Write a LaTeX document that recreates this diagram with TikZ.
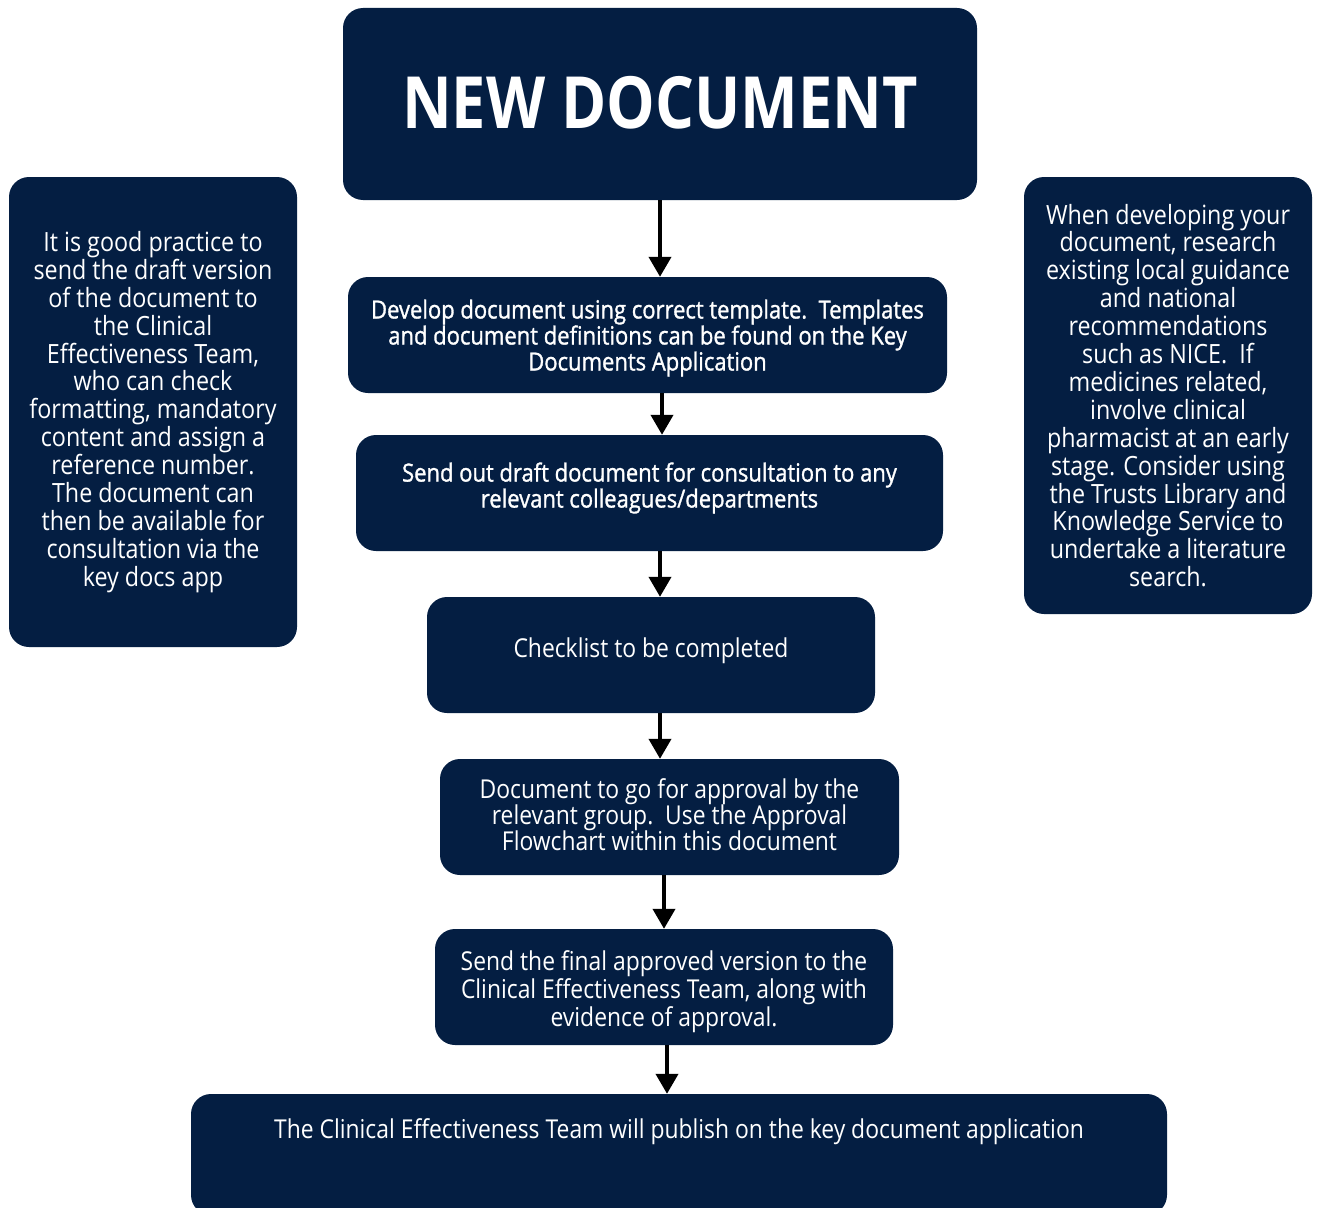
\documentclass[tikz,border=0pt]{standalone}
\usepackage{fontspec}
\setmainfont[FakeStretch=0.88]{Open Sans}
\newfontfamily\semibf[FakeStretch=0.88,FakeBold=1.2]{Open Sans}
\newfontfamily\titlef[FakeStretch=0.85]{Open Sans}
\usetikzlibrary{arrows.meta}
\definecolor{navy}{HTML}{041E42}
\begin{document}
\begin{tikzpicture}[x=1pt,y=-1pt,
  box/.style={fill=navy, rounded corners=20pt, text=white, align=center, inner sep=0pt},
  sidetext/.style={font=\fontsize{26.5}{27.9}\selectfont},
  semitext/.style={font=\semibf\fontsize{25}{26}\selectfont},
  regtext/.style={font=\fontsize{26}{27.5}\selectfont},
  arr/.style={-{Triangle[length=20pt,width=22pt]}, line width=4pt, black}]
\useasboundingbox (0,0) rectangle (1319,1207);
\begin{scope}
\clip (0,0) rectangle (1319,1207);
\node[box, minimum width=634pt, minimum height=192pt, font=\titlef\bfseries\fontsize{72}{80}\selectfont] (title) at (660,104) {NEW DOCUMENT\\[-76pt]\mbox{}};
\node[box, sidetext, minimum width=288pt, minimum height=470pt] (left) at (153,412) {It is good practice to\\send the draft version\\of the document to\\the Clinical\\Effectiveness Team,\\who can check\\formatting, mandatory\\content and assign a\\reference number.\\The document can\\then be available for\\consultation via the\\key docs app};
\node[box, sidetext, minimum width=288pt, minimum height=437pt] (right) at (1168,395.5) {When developing your\\document, research\\existing local guidance\\and national\\recommendations\\such as NICE.\ \ If\\medicines related,\\involve clinical\\pharmacist at an early\\stage. Consider using\\the Trusts Library and\\Knowledge Service to\\undertake a literature\\search.};
\node[box, semitext, minimum width=599pt, minimum height=116pt] (b1) at (647.5,335) {\mbox{}\\[-1pt]Develop document using correct template.\ \ Templates\\and document definitions can be found on the Key\\Documents Application};
\node[box, semitext, minimum width=587pt, minimum height=116pt] (b2) at (649.5,493) {Send out draft document for consultation to any\\relevant colleagues/departments\\[-10pt]\mbox{}};
\node[box, regtext, minimum width=448pt, minimum height=116pt] (b3) at (651,655) {Checklist to be completed\\[-13.5pt]\mbox{}};
\node[box, regtext, font=\fontsize{26}{26}\selectfont, minimum width=459pt, minimum height=116pt] (b4) at (669.5,817) {Document to go for approval by the\\relevant group.\ \ Use the Approval\\Flowchart within this document\\[-22pt]\mbox{}};
\node[box, regtext, font=\fontsize{26}{28}\selectfont, minimum width=458pt, minimum height=116pt] (b5) at (664,987) {\mbox{}\\[1pt]Send the final approved version to the\\Clinical Effectiveness Team, along with\\evidence of approval.};
\node[box, minimum width=976pt, minimum height=121pt] (b6) at (679,1154.5) {};
\node[regtext, text=white] (b6t) at ([yshift=-38pt]b6.north) {The Clinical Effectiveness Team will publish on the key document application};
\end{scope}
\draw[arr] (title.south) -- (title.south |- b1.north);
\draw[arr] ([xshift=14.5pt]b1.south) -- ([xshift=12.5pt]b2.north);
\draw[arr] ([xshift=10.5pt]b2.south) -- ([xshift=9pt]b3.north);
\draw[arr] ([xshift=9pt]b3.south) -- ([xshift=-9.5pt]b4.north);
\draw[arr] ([xshift=-5.5pt]b4.south) -- (b5.north);
\draw[arr] ([xshift=3pt]b5.south) -- ([xshift=-12pt]b6.north);
\end{tikzpicture}
\end{document}
